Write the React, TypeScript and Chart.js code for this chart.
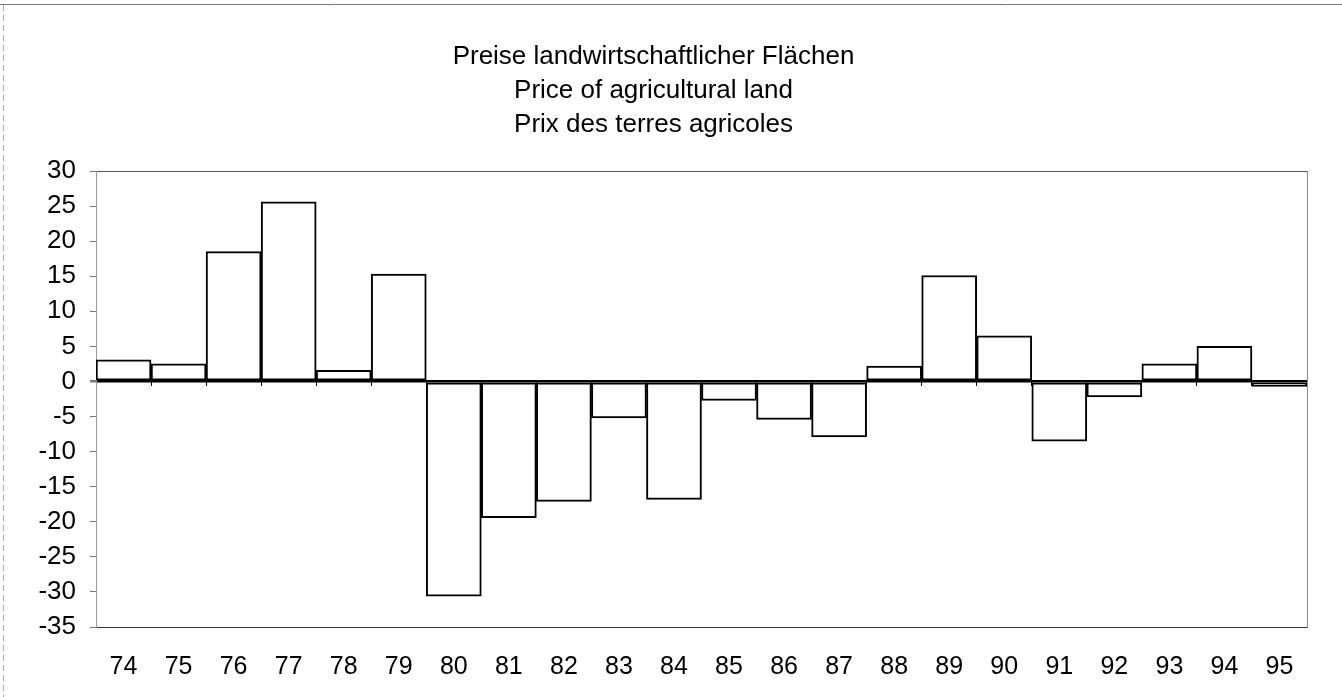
import React, { useEffect, useRef } from 'react';
import { Chart, registerables } from 'chart.js';

Chart.register(...registerables);

const years = ['74', '75', '76', '77', '78', '79', '80', '81', '82', '83', '84', '85', '86', '87', '88', '89', '90', '91', '92', '93', '94', '95'];
const priceChange = [3.1, 2.5, 18.5, 25.6, 1.6, 15.3, -30.6, -19.4, -17.1, -5.2, -16.8, -2.7, -5.4, -7.9, 2.2, 15.1, 6.5, -8.5, -2.2, 2.5, 5.0, -0.7];
const titleLines = ['Preise landwirtschaftlicher Flächen', 'Price of agricultural land', 'Prix des terres agricoles'];
const yMin = -35;
const yMax = 30;
const yStep = 5;

const FONT = "'Liberation Sans', Arial, sans-serif";
const W = 1342;
const H = 697;

const framePlugin = {
  id: 'pageFrame',
  beforeDraw(chart: any) {
    const ctx = chart.ctx;
    ctx.save();
    ctx.strokeStyle = '#777';
    ctx.lineWidth = 1;
    ctx.setLineDash([]);
    ctx.beginPath();
    ctx.moveTo(0, 4.5);
    ctx.lineTo(W, 4.5);
    ctx.stroke();
    ctx.strokeStyle = '#aaa';
    ctx.setLineDash([6, 4]);
    ctx.beginPath();
    ctx.moveTo(3.5, 5);
    ctx.lineTo(3.5, H);
    ctx.stroke();
    ctx.restore();
  },
};

export default function App() {
  const ref = useRef<HTMLCanvasElement>(null);

  useEffect(() => {
    document.body.style.margin = '0';
    const canvas = ref.current;
    if (!canvas) return;
    const chart = new Chart(canvas, {
      type: 'bar',
      data: {
        labels: years,
        datasets: [
          {
            data: priceChange,
            backgroundColor: '#ffffff',
            borderColor: '#000000',
            borderWidth: 2,
            borderSkipped: false,
            barPercentage: 1,
            categoryPercentage: 1,
            xAxisID: 'x',
            yAxisID: 'y',
          },
        ],
      },
      options: {
        responsive: false,
        animation: false,
        devicePixelRatio: 1,
        layout: { padding: { left: 0, right: 35, top: 0, bottom: 0 } },
        plugins: {
          legend: { display: false },
          tooltip: { enabled: false },
          title: {
            display: true,
            text: titleLines,
            color: '#000',
            font: { family: FONT, size: 26, weight: 'normal', lineHeight: 34 / 26 },
            padding: { top: 40, bottom: 29 },
          },
        },
        scales: {
          x: {
            type: 'category',
            offset: true,
            grid: { display: false, drawTicks: false },
            border: { display: true, color: '#333', width: 1 },
            ticks: {
              color: '#000',
              font: { family: FONT, size: 25 },
              padding: 25,
              maxRotation: 0,
              autoSkip: false,
            },
            afterFit: (s: any) => {
              s.height = 70;
            },
          },
          x2: {
            type: 'category',
            position: { y: 0 },
            offset: true,
            grid: { offset: true, drawOnChartArea: false, tickLength: 5, color: '#000', lineWidth: 1 },
            border: { display: false },
            ticks: { display: false },
          },
          y: {
            type: 'linear',
            min: yMin,
            max: yMax,
            ticks: {
              stepSize: yStep,
              color: '#000',
              font: { family: FONT, size: 26 },
              padding: 14,
              callback: (v: any) => String(v),
            },
            grid: {
              color: (c: any) =>
                c.tick && c.tick.value === 0 ? '#000' : c.tick && c.tick.value === yMax ? '#555' : 'rgba(0,0,0,0)',
              lineWidth: (c: any) => (c.tick && c.tick.value === 0 ? 2.5 : 1),
              tickColor: '#777',
              tickLength: 6,
            },
            border: { display: true, color: '#999' },
            afterFit: (s: any) => {
              s.width = 96;
            },
          },
          y2: {
            type: 'linear',
            position: 'right',
            min: yMin,
            max: yMax,
            ticks: { display: false },
            grid: { display: false, drawTicks: false },
            border: { display: true, color: '#888', dash: [6, 3] },
            afterFit: (s: any) => {
              s.width = 0;
            },
          },
        },
      },
      plugins: [framePlugin],
    } as any);
    return () => chart.destroy();
  }, []);

  return (
    <div style={{ width: W, height: H }}>
      <canvas ref={ref} width={W} height={H} style={{ display: 'block', width: W, height: H }} />
    </div>
  );
}
